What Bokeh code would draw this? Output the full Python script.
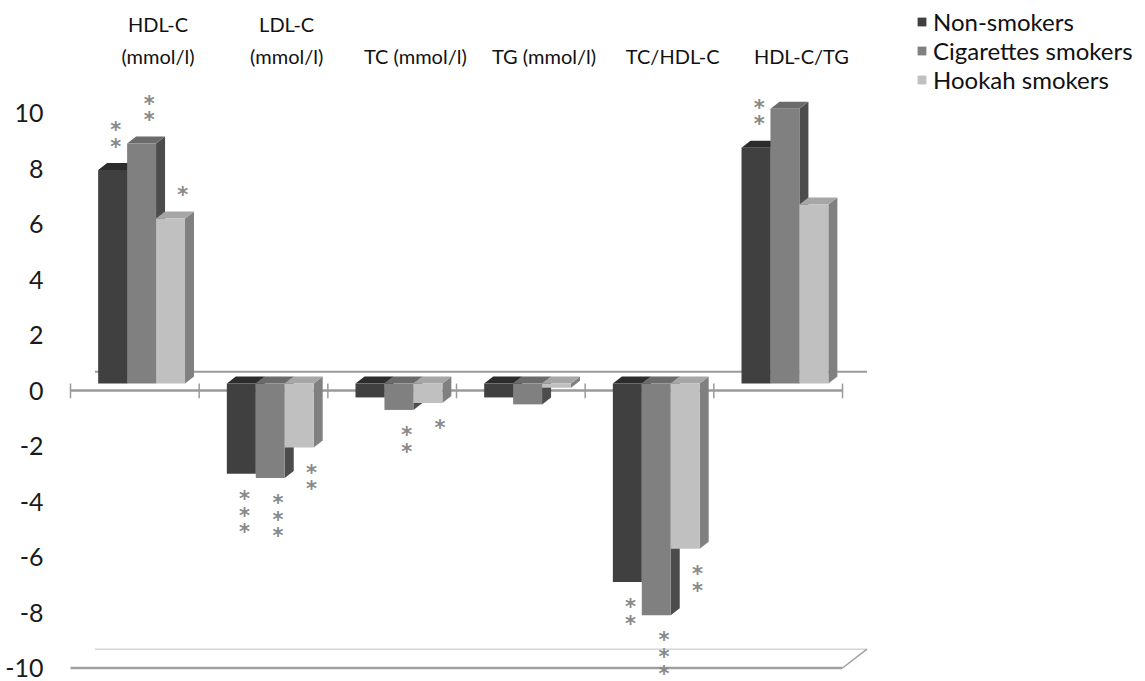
import numpy as np
from bokeh.plotting import figure
from bokeh.models import Range1d, FixedTicker, ColumnDataSource, Legend, LegendItem
from bokeh.core.properties import value
from bokeh.embed import file_html
from bokeh.resources import INLINE

# ---------------- data ----------------
categories = ["HDL-C\n(mmol/l)", "LDL-C\n(mmol/l)", "TC (mmol/l)", "TG (mmol/l)", "TC/HDL-C", "HDL-C/TG"]
series_names = ["Non-smokers", "Cigarettes smokers", "Hookah smokers"]
non_smokers = [7.95, -3.0, -0.25, -0.25, -6.9, 8.75]
cigarette_smokers = [8.9, -3.15, -0.7, -0.5, -8.1, 10.15]
hookah_smokers = [6.2, -2.05, -0.45, 0.1, -5.7, 6.7]
stars_non = [2, 3, 0, 0, 2, 2]
stars_cig = [2, 3, 2, 0, 3, 0]
stars_hook = [1, 2, 1, 0, 2, 0]
y_ticks = [-10, -8, -6, -4, -2, 0, 2, 4, 6, 8, 10]

# ---------------- layout constants ----------------
FONT = "Lato"
W, H = 1145, 681
FL = 58                      # frame left (canvas px)
PX_X, PX_Y = 128.67, 27.75   # px per data unit
X0C, Y0C = 70, 390           # canvas position of data (0, 0)
x_start = (FL - X0C) / PX_X
x_end = (W - X0C) / PX_X
y_end = Y0C / PX_Y
y_start = -(H - Y0C) / PX_Y

BAR_W = 0.225
GROUP_OFF = 0.215
BASE = 0.25                 # bar base plane (3D depth)
DX, DY = 9 / PX_X, 7 / PX_Y  # bar depth projection
FDX, FDY = 0.19, 0.68        # floor / wall depth projection

front_col = ["#404040", "#808080", "#c0c0c0"]
top_col = ["#2c2c2c", "#6b6b6b", "#a6a6a6"]
side_col = ["#222222", "#4c4c4c", "#808080"]

p = figure(width=W, height=H, output_backend="svg", toolbar_location=None,
           x_range=Range1d(x_start, x_end), y_range=Range1d(y_start, y_end),
           x_axis_location=None, min_border_left=FL, min_border_right=0,
           min_border_top=0, min_border_bottom=0)
p.outline_line_color = None
p.xgrid.visible = False
p.ygrid.visible = False
p.background_fill_color = "white"

ax = p.yaxis[0]
ax.ticker = FixedTicker(ticks=y_ticks)
ax.major_label_overrides = {t: str(t) for t in y_ticks}
ax.axis_line_color = None
ax.major_tick_line_color = None
ax.minor_tick_line_color = None
ax.major_tick_out = 0
ax.major_tick_in = 0
ax.major_label_standoff = 15
ax.major_label_text_font = FONT
ax.major_label_text_font_size = "25px"
ax.major_label_text_color = "#1a1a1a"

n = len(categories)
idx = np.arange(n)

# back wall line (zero plane) and floor
p.segment(x0=[FDX], y0=[FDY], x1=[n + FDX], y1=[FDY], line_color="#9a9a9a", line_width=2)
p.segment(x0=[FDX], y0=[-10 + FDY], x1=[n + FDX], y1=[-10 + FDY], line_color="#d4d4d4", line_width=1.5)
p.segment(x0=[0], y0=[-10], x1=[n], y1=[-10], line_color="#a0a0a0", line_width=2.5)
p.segment(x0=[n], y0=[-10], x1=[n + FDX], y1=[-10 + FDY], line_color="#a0a0a0", line_width=1.5)
# front category axis at zero
p.segment(x0=[0], y0=[0], x1=[n], y1=[0], line_color="#9a9a9a", line_width=2.5)
ticks_x = np.arange(n + 1)
p.segment(x0=ticks_x, y0=[BASE] * (n + 1), x1=ticks_x, y1=[-0.28] * (n + 1),
          line_color="#9a9a9a", line_width=1.5)

all_series = [non_smokers, cigarette_smokers, hookah_smokers]
all_stars = [stars_non, stars_cig, stars_hook]
fronts = []
sx, sy = [], []
for j, vals in enumerate(all_series):
    v = np.array(vals, dtype=float)
    xl = idx + GROUP_OFF + j * BAR_W
    xr = xl + BAR_W
    b = np.minimum(BASE, v)
    t = np.maximum(BASE, v)
    side_xs = [[r, r + DX, r + DX, r] for r in xr]
    side_ys = [[bb, bb + DY, tt + DY, tt] for bb, tt in zip(b, t)]
    top_xs = [[l, l + DX, r + DX, r] for l, r in zip(xl, xr)]
    top_ys = [[tt, tt + DY, tt + DY, tt] for tt in t]
    p.patches(xs=side_xs, ys=side_ys, fill_color=side_col[j], line_color=None)
    p.patches(xs=top_xs, ys=top_ys, fill_color=top_col[j], line_color=None)
    src = ColumnDataSource(dict(left=xl, right=xr, bottom=b, top=t))
    r = p.quad(left="left", right="right", bottom="bottom", top="top", source=src,
               fill_color=front_col[j], line_color=None)
    fronts.append(r)
    for k in range(n):
        cnt = all_stars[j][k]
        cx = (xl[k] + xr[k]) / 2 + 0.025 + j * 0.035
        for s in range(cnt):
            if v[k] >= 0:
                sy.append(v[k] + 0.95 + s * 0.6)
            else:
                sy.append(v[k] - 0.8 - s * 0.6)
            sx.append(cx)

p.text(x=sx, y=sy, text=["*"] * len(sx), text_font=value("DejaVu Sans"), text_font_size="21px",
       text_font_style="bold", text_color="#8a8a8a", text_align="center",
       text_baseline="middle", y_offset=3)

# category labels (above the chart)
line1 = [c.split("\n")[0] if "\n" in c else "" for c in categories]
line2 = [c.split("\n")[-1] for c in categories]
lab_x = idx + 0.68
p.text(x=lab_x, y=[13.2] * n, text=line1, text_font=value(FONT), text_font_size="20px",
       text_color="#111111", text_align="center", text_baseline="middle")
p.text(x=lab_x, y=[12.07] * n, text=line2, text_font=value(FONT), text_font_size="20px",
       text_color="#111111", text_align="center", text_baseline="middle")

legend = Legend(items=[LegendItem(label=nm, renderers=[r]) for nm, r in zip(series_names, fronts)],
                location=(858, 587), orientation="vertical", glyph_width=11, glyph_height=11,
                label_standoff=6, padding=0, spacing=0, margin=0, label_height=27,
                border_line_color=None, background_fill_alpha=0,
                label_text_font=FONT, label_text_font_size="24px", label_text_color="#111111")
p.add_layout(legend)

open("out.html", "w").write(file_html(p, INLINE))
